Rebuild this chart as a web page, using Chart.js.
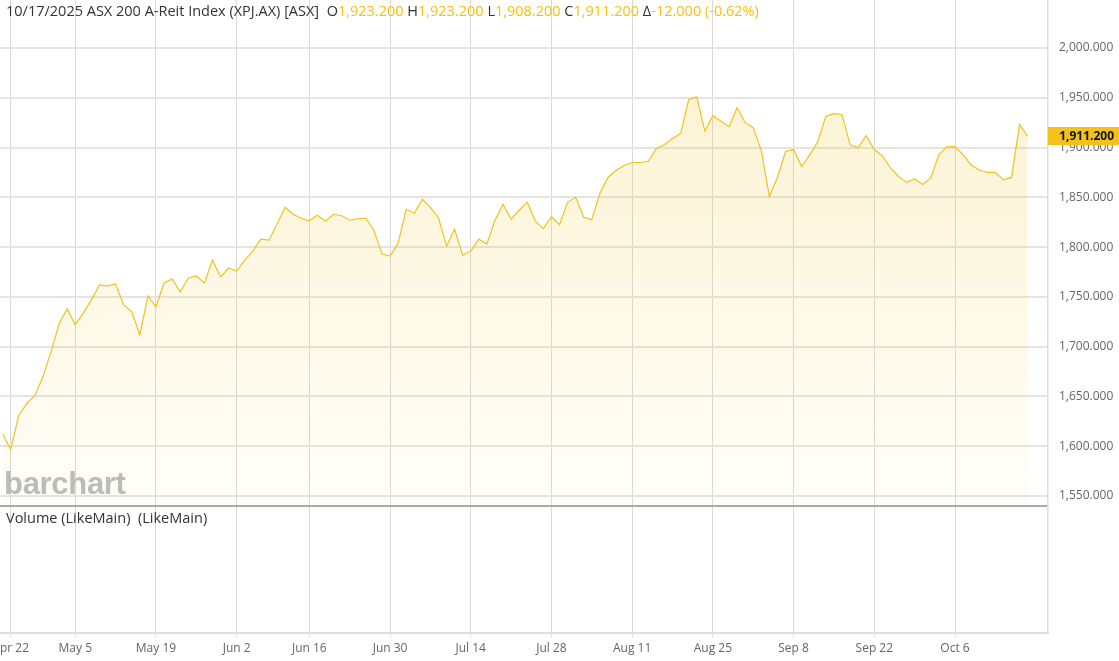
<!DOCTYPE html>
<html>
<head>
<meta charset="utf-8">
<script src="https://cdn.jsdelivr.net/npm/chart.js@4.4.1/dist/chart.umd.min.js"></script>
<style>
  body { margin: 0; background: #fff; }
  #wrap { position: relative; width: 1119px; height: 661px; overflow: hidden; font-family: 'Open Sans', sans-serif; }
  #c { position: absolute; left: 0; top: 0; }
  #hdr { position: absolute; left: 6px; top: 1px; font-size: 14.5px; line-height: 20px; color: #333; white-space: pre; }
  #hdr .v { color: #f4c20d; }
  #vol { position: absolute; left: 6px; top: 508px; font-size: 14.5px; line-height: 20px; color: #333; white-space: pre; }
  #logo { position: absolute; left: 4px; top: 466px; font-family: 'Liberation Sans', Arial, sans-serif; font-weight: bold; font-size: 31px; letter-spacing: -0.3px; color: rgba(160,160,160,0.7); }
</style>
</head>
<body>
<div id="wrap">
  <canvas id="c" width="1119" height="661"></canvas>
  <div id="logo">barchart</div>
  <div id="hdr"></div>
  <div id="vol">Volume (LikeMain)  (LikeMain)</div>
</div>
<script>
// daily closes, Apr 17 2025 .. Oct 17 2025 (trading days)
var closes = [
  1612, 1597, 1631, 1643, 1651, 1670, 1695, 1723, 1738, 1722,
  1734, 1747, 1762, 1761, 1763, 1742, 1735, 1712, 1751, 1740,
  1764, 1768, 1755, 1769, 1771, 1764, 1787, 1770, 1779, 1776,
  1787, 1796, 1808, 1807, 1823, 1840, 1833, 1829, 1826.5, 1832,
  1826, 1833, 1831.5, 1827, 1828.5, 1829, 1817, 1793, 1791, 1804,
  1838, 1834, 1848, 1840, 1829.5, 1801, 1818, 1792, 1796, 1808,
  1803, 1827, 1843, 1828, 1837, 1845, 1826, 1818.5, 1830.5, 1822.5,
  1845, 1850, 1830, 1827.5, 1854, 1870, 1877, 1882, 1885, 1885,
  1886, 1899, 1903, 1909, 1914, 1948, 1951, 1916.5, 1932, 1926.5,
  1921, 1940, 1925, 1920, 1897, 1851, 1870, 1896, 1898, 1881,
  1892.6, 1906, 1931.5, 1934, 1933, 1902.7, 1900, 1912, 1898, 1891.6,
  1879.5, 1871, 1865, 1868.5, 1863, 1869.5, 1892.6, 1901, 1901, 1893,
  1882.5, 1877.5, 1875, 1875, 1867.5, 1870, 1923.2, 1911.2
];

var tickIndex = [1, 9, 19, 29, 38, 48, 58, 68, 78, 88, 98, 108, 118];
var tickLabels = ['Apr 22', 'May 5', 'May 19', 'Jun 2', 'Jun 16', 'Jun 30', 'Jul 14', 'Jul 28', 'Aug 11', 'Aug 25', 'Sep 8', 'Sep 22', 'Oct 6'];
var priceTicks = [1550, 1600, 1650, 1700, 1750, 1800, 1850, 1900, 1950, 2000];

var quote = { date: '10/17/2025', name: 'ASX 200 A-Reit Index (XPJ.AX) [ASX]', open: 1923.2, high: 1923.2, low: 1908.2, close: 1911.2, change: -12.0, pct: -0.62 };

var gold = '#f2c21b';

function fmt(v) {
  return v.toLocaleString('en-US', { minimumFractionDigits: 3, maximumFractionDigits: 3 });
}

document.getElementById('hdr').innerHTML =
  quote.date + ' ' + quote.name + '  O<span class="v">' + fmt(quote.open) + '</span> H<span class="v">' + fmt(quote.high) +
  '</span> L<span class="v">' + fmt(quote.low) + '</span> C<span class="v">' + fmt(quote.close) +
  '</span> \u2206<span class="v">' + fmt(quote.change) + ' (' + quote.pct.toFixed(2) + '%)</span>';

var points = closes.map((v, i) => ({ x: i, y: v }));

// last price tag on the right axis
var priceTag = {
  id: 'priceTag',
  afterDraw(chart) {
    var ctx = chart.ctx, y = chart.scales.y;
    var last = closes[closes.length - 1];
    var py = Math.round(y.getPixelForValue(last));
    ctx.save();
    ctx.fillStyle = gold;
    ctx.fillRect(chart.chartArea.right, py - 9, chart.width - chart.chartArea.right, 18);
    ctx.fillStyle = '#111';
    ctx.font = 'bold 12px "Open Sans"';
    ctx.textAlign = 'right';
    ctx.textBaseline = 'middle';
    ctx.fillText(fmt(last), 1114, py + 0.5);
    ctx.restore();
  }
};

function noPad(s) { s.paddingLeft = 0; s.paddingRight = 0; s.paddingTop = 0; s.paddingBottom = 0; }

new Chart(document.getElementById('c').getContext('2d'), {
  type: 'line',
  data: {
    datasets: [{
      data: points,
      borderColor: gold,
      borderWidth: 1.2,
      pointRadius: 0,
      tension: 0,
      fill: 'start',
      backgroundColor: (ctx) => {
        var ch = ctx.chart;
        if (!ch.chartArea) return 'rgba(242,194,27,0.1)';
        var s = ch.scales.y;
        var g = ch.ctx.createLinearGradient(0, s.top, 0, s.bottom);
        g.addColorStop(0, 'rgba(242,194,27,0.22)');
        g.addColorStop(1, 'rgba(242,194,27,0.03)');
        return g;
      },
      yAxisID: 'y'
    }]
  },
  options: {
    responsive: false,
    animation: false,
    layout: { padding: 0 },
    plugins: { legend: { display: false }, tooltip: { enabled: false } },
    scales: {
      x: {
        type: 'linear',
        min: -0.326,
        max: 129.52,
        grid: { color: '#d9d9d9', lineWidth: 1, tickLength: 4 },
        border: { color: '#dedede', width: 2 },
        ticks: {
          autoSkip: false, maxRotation: 0, color: '#666', padding: 4,
          font: { family: 'Open Sans', size: 12 },
          callback: (v) => { var k = tickIndex.indexOf(v); return k < 0 ? '' : tickLabels[k]; }
        },
        afterBuildTicks: (s) => { s.ticks = tickIndex.map(v => ({ value: v })); },
        afterFit: (s) => { noPad(s); s.height = 28; }
      },
      y: {
        position: 'right',
        stack: 'pane',
        stackWeight: 505.5,
        min: 1540.5,
        max: 2048.2,
        grid: { color: '#e4e4e4', lineWidth: 2, drawTicks: false },
        border: { color: '#dcdcdc', width: 1.5 },
        ticks: { color: '#666', padding: 11, font: { family: 'Open Sans', size: 12 }, callback: (v) => fmt(v) },
        afterBuildTicks: (s) => { s.ticks = priceTicks.map(v => ({ value: v })); },
        afterFit: (s) => { noPad(s); s.width = 71; }
      },
      yv: {
        position: 'right',
        stack: 'pane',
        stackWeight: 127.5,
        min: 0,
        max: 1,
        grid: { color: '#a9a9a9', lineWidth: 2, drawTicks: false },
        border: { color: '#dcdcdc', width: 1.5 },
        ticks: { display: false },
        afterBuildTicks: (s) => { s.ticks = [{ value: 1 }]; },
        afterFit: (s) => { noPad(s); s.width = 71; }
      }
    }
  },
  plugins: [priceTag]
});
</script>
</body>
</html>
